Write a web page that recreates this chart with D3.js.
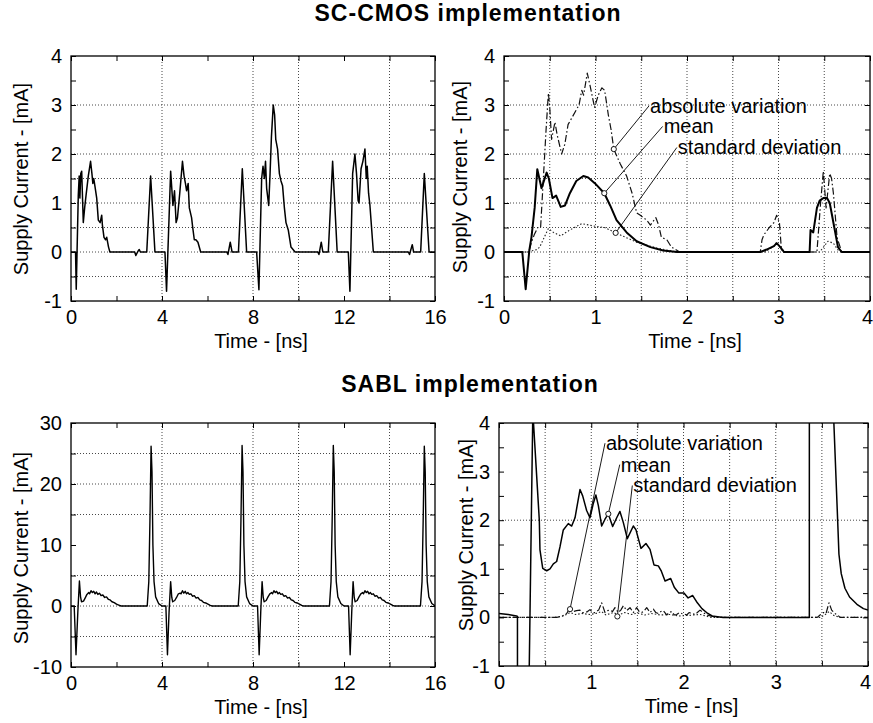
<!DOCTYPE html>
<html><head><meta charset="utf-8">
<script src="https://cdn.jsdelivr.net/npm/d3@7/dist/d3.min.js"></script>
<style>
html,body{margin:0;padding:0;background:#fff;}
svg{display:block;font-family:"Liberation Sans",Arial,Helvetica,sans-serif;}
</style></head>
<body><svg id="chart" width="873" height="723"></svg>
<script>
// ---------------- DATA ----------------
const titles = ["SC-CMOS implementation", "SABL implementation"];
const yLabel = "Supply Current - [mA]";
const xLabel = "Time - [ns]";

// SC-CMOS, supply current over 16 ns  [time ns, current mA]
const scTrace = [[0,0],[0.2,0],[0.23,-0.76],[0.32,1.15],[0.36,1.55],[0.39,1.1],[0.43,1.6],[0.47,1.65],[0.54,0.6],[0.6,0.9],[0.66,1.15],[0.76,1.55],[0.86,1.85],[0.92,1.6],[0.96,1.4],[1.0,1.5],[1.05,1.35],[1.13,1.1],[1.2,0.65],[1.28,0.6],[1.35,0.75],[1.38,0.55],[1.45,0.3],[1.52,0.25],[1.57,0.3],[1.65,0.1],[1.71,0],[2.8,0],[2.85,-0.07],[2.95,0.02],[3.0,0.05],[3.05,0],[3.33,0],[3.5,1.55],[3.69,0],[4.13,0],[4.2,-0.8],[4.38,1.65],[4.48,0.95],[4.55,1.25],[4.62,0.6],[4.68,0.7],[4.78,1.2],[4.9,1.85],[4.97,1.55],[5.03,1.4],[5.08,1.25],[5.15,1.4],[5.2,0.9],[5.3,0.7],[5.35,0.5],[5.42,0.25],[5.49,0.25],[5.58,0.2],[5.7,0],[6.85,0],[6.9,-0.05],[7.0,0.2],[7.08,0],[7.36,0],[7.53,1.7],[7.72,0],[8.16,0],[8.26,-0.77],[8.38,1.5],[8.44,1.75],[8.5,1.5],[8.55,1.85],[8.6,1.3],[8.69,0.95],[8.75,1.6],[8.81,2.35],[8.89,3.0],[8.95,2.8],[9.0,2.3],[9.08,2.1],[9.16,1.6],[9.23,1.45],[9.3,1.35],[9.38,0.9],[9.45,0.6],[9.55,0.45],[9.67,0.1],[9.85,0],[10.85,0],[10.9,-0.05],[11.0,0.2],[11.07,0],[11.31,0],[11.5,1.85],[11.7,0],[12.19,0],[12.26,-0.8],[12.38,1.6],[12.48,2.0],[12.55,1.6],[12.62,1.05],[12.66,1.0],[12.75,1.7],[12.83,1.85],[12.92,2.1],[12.98,1.5],[13.02,1.75],[13.08,1.2],[13.14,0.95],[13.29,0],[14.83,0],[14.88,-0.05],[15.0,0.15],[15.06,0],[15.37,0],[15.53,1.6],[15.74,0],[16,0]];

// SC-CMOS statistics over 4 ns
const scMean = [[0,0],[0.2,0],[0.237,-0.76],[0.277,0.04],[0.3,0.3],[0.335,0.9],[0.364,1.69],[0.41,1.3],[0.466,1.62],[0.49,1.5],[0.53,1.1],[0.57,1.15],[0.62,0.92],[0.667,0.95],[0.72,1.2],[0.79,1.45],[0.867,1.55],[0.92,1.52],[0.995,1.4],[1.096,1.2],[1.16,0.95],[1.23,0.65],[1.34,0.4],[1.45,0.22],[1.6,0.1],[1.74,0.03],[1.89,0],[2.8,0],[2.87,0.05],[2.95,0.12],[2.98,0.18],[3.02,0.1],[3.06,0],[3.34,0],[3.35,0.45],[3.38,0.4],[3.42,0.9],[3.45,1.05],[3.49,1.1],[3.53,1.1],[3.56,1.0],[3.61,0.5],[3.65,0.1],[3.69,0],[4,0]];
const scAbsVar = [[0,0],[0.27,0],[0.3,0.2],[0.33,0.35],[0.37,0.5],[0.4,0.5],[0.43,1.5],[0.46,2.5],[0.485,3.24],[0.5,2.95],[0.52,2.3],[0.557,2.65],[0.58,2.4],[0.63,2.0],[0.665,2.2],[0.7,2.6],[0.79,2.9],[0.82,3.0],[0.85,3.3],[0.87,3.2],[0.91,3.65],[0.94,3.4],[0.99,2.95],[1.03,3.2],[1.07,3.35],[1.1,3.3],[1.14,2.8],[1.17,2.5],[1.2,2.1],[1.27,1.8],[1.34,1.55],[1.4,1.2],[1.45,0.8],[1.49,0.75],[1.56,0.65],[1.6,0.55],[1.66,0.7],[1.69,0.55],[1.72,0.3],[1.78,0.25],[1.83,0.1],[1.92,0],[2.8,0],[2.82,0.25],[2.84,0.35],[2.9,0.5],[2.95,0.6],[2.98,0.75],[3.01,0.6],[3.03,0.1],[3.06,0],[3.42,0],[3.46,1.0],[3.49,1.65],[3.52,0.9],[3.56,1.6],[3.58,1.5],[3.6,1.2],[3.64,0.3],[3.69,0],[4,0]];
const scStd = [[0,0],[0.25,0],[0.36,0.05],[0.39,0.1],[0.485,0.48],[0.54,0.4],[0.62,0.33],[0.72,0.45],[0.85,0.58],[1.01,0.52],[1.1,0.5],[1.22,0.39],[1.45,0.2],[1.67,0.08],[1.89,0],[2.85,0],[2.95,0.12],[2.98,0.2],[3.03,0.05],[3.06,0],[3.45,0],[3.5,0.12],[3.54,0.22],[3.6,0.18],[3.65,0.04],[3.69,0],[4,0]];

// SABL, supply current over 16 ns
const sablTrace = [[0,0],[0.14,0],[0.22,-8],[0.3,-1],[0.37,4.1],[0.42,1.5],[0.46,0.7],[0.55,0.8],[0.62,1.3],[0.7,1.9],[0.78,2.2],[0.82,2.0],[0.88,2.5],[0.94,2.2],[1.0,2.4],[1.06,2.0],[1.12,2.3],[1.18,1.9],[1.25,2.1],[1.32,1.7],[1.4,1.8],[1.48,1.4],[1.56,1.5],[1.64,1.1],[1.72,1.0],[1.8,0.7],[1.9,0.55],[2.0,0.3],[2.1,0.15],[2.2,0],[3.35,0],[3.42,4],[3.47,14],[3.52,26.2],[3.56,22],[3.6,10],[3.65,4],[3.72,1.5],[3.85,0.4],[4.0,0],[4.17,0],
 [4.24,-8],[4.31,-1],[4.38,4],[4.43,1.4],[4.47,0.7],[4.56,0.9],[4.64,1.4],[4.72,2.0],[4.8,2.1],[4.84,2.0],[4.9,2.5],[4.96,2.1],[5.02,2.4],[5.08,2.0],[5.14,2.2],[5.2,1.9],[5.27,2.0],[5.34,1.6],[5.42,1.7],[5.5,1.3],[5.58,1.4],[5.66,1.0],[5.74,0.9],[5.82,0.6],[5.92,0.5],[6.02,0.3],[6.12,0.1],[6.2,0],[7.35,0],[7.42,4],[7.47,14],[7.52,26.3],[7.56,22],[7.6,10],[7.65,4],[7.72,1.5],[7.85,0.4],[8.0,0],[8.2,0],
 [8.27,-8],[8.34,-1],[8.4,4],[8.45,1.4],[8.49,0.7],[8.58,0.9],[8.66,1.5],[8.74,2.0],[8.82,2.2],[8.86,2.0],[8.92,2.5],[8.98,2.2],[9.04,2.4],[9.1,2.0],[9.16,2.2],[9.22,1.9],[9.29,2.0],[9.36,1.6],[9.44,1.7],[9.52,1.3],[9.6,1.4],[9.68,1.0],[9.76,0.9],[9.84,0.6],[9.94,0.5],[10.04,0.3],[10.14,0.1],[10.22,0],[11.36,0],[11.43,4],[11.48,14],[11.53,26.3],[11.57,22],[11.61,10],[11.66,4],[11.73,1.5],[11.86,0.4],[12.0,0],[12.2,0],
 [12.27,-8],[12.34,-1],[12.4,4],[12.45,1.4],[12.49,0.7],[12.58,0.9],[12.66,1.5],[12.74,2.0],[12.82,2.2],[12.86,2.0],[12.92,2.5],[12.98,2.2],[13.04,2.4],[13.1,2.0],[13.16,2.2],[13.22,1.9],[13.29,2.0],[13.36,1.6],[13.44,1.7],[13.52,1.3],[13.6,1.4],[13.68,1.0],[13.76,0.9],[13.84,0.6],[13.94,0.5],[14.04,0.3],[14.14,0.1],[14.22,0],[15.36,0],[15.43,4],[15.48,14],[15.53,26.2],[15.57,22],[15.61,10],[15.66,4],[15.73,1.5],[15.86,0.4],[16,0]];

// SABL statistics over 4 ns
const sablMean = [[0,0.08],[0.1,0.06],[0.19,0.03],[0.2,0.02],[0.202,-8],[0.26,-8],[0.328,-1],[0.365,4],[0.369,4.3],[0.374,4],[0.437,2],[0.444,1.39],[0.474,1.01],[0.517,0.96],[0.553,1.0],[0.589,1.1],[0.625,1.15],[0.661,1.45],[0.697,1.8],[0.751,1.93],[0.788,1.88],[0.824,2.05],[0.878,2.63],[0.907,2.5],[0.95,2.2],[0.986,2.05],[1.023,2.35],[1.05,2.52],[1.077,2.3],[1.113,1.88],[1.149,2.02],[1.185,2.13],[1.232,1.87],[1.276,2.05],[1.311,2.18],[1.348,1.95],[1.391,1.62],[1.456,1.88],[1.485,1.8],[1.539,1.42],[1.593,1.52],[1.637,1.4],[1.68,1.08],[1.727,1.06],[1.76,0.95],[1.8,0.75],[1.861,0.8],[1.9,0.62],[1.95,0.5],[2.005,0.5],[2.05,0.4],[2.1,0.45],[2.15,0.3],[2.2,0.18],[2.25,0.1],[2.31,0.03],[2.43,0],[3.364,0],[3.366,26],[3.56,26],[3.63,4],[3.671,2],[3.685,1.3],[3.71,0.9],[3.75,0.6],[3.8,0.42],[3.88,0.27],[3.95,0.18],[4.0,0.15]];
const sablAbsVar = [[0,0],[0.625,0],[0.68,0.02],[0.734,0.08],[0.77,0.2],[0.805,0.12],[0.84,0.14],[0.878,0.15],[0.905,0.1],[0.932,0.1],[0.96,0.12],[0.986,0.16],[1.015,0.1],[1.041,0.1],[1.08,0.15],[1.113,0.3],[1.149,0.1],[1.175,0.14],[1.203,0.15],[1.23,0.12],[1.257,0.2],[1.293,0.1],[1.32,0.15],[1.348,0.24],[1.384,0.14],[1.42,0.2],[1.456,0.1],[1.492,0.2],[1.52,0.12],[1.547,0.1],[1.575,0.14],[1.601,0.2],[1.637,0.1],[1.673,0.17],[1.7,0.1],[1.727,0.08],[1.755,0.12],[1.781,0.14],[1.818,0.05],[1.845,0.1],[1.872,0.12],[1.9,0.05],[1.926,0.06],[1.955,0.1],[1.98,0.08],[2.035,0.05],[2.06,0.1],[2.088,0.08],[2.125,0.06],[2.15,0.1],[2.179,0.15],[2.251,0.05],[2.36,0],[3.45,0],[3.48,0.05],[3.516,0.1],[3.545,0.08],[3.577,0.3],[3.606,0.15],[3.64,0.08],[3.67,0.05],[3.697,0],[4,0]];
const sablStd = [[0,0],[0.6,0],[0.7,0.03],[0.77,0.1],[0.83,0.06],[0.9,0.08],[0.98,0.06],[1.05,0.08],[1.11,0.12],[1.16,0.05],[1.24,0.1],[1.3,0.05],[1.36,0.1],[1.44,0.06],[1.5,0.09],[1.58,0.05],[1.65,0.08],[1.75,0.05],[1.85,0.06],[1.95,0.03],[2.05,0.04],[2.18,0.06],[2.3,0],[3.48,0],[3.53,0.05],[3.58,0.12],[3.63,0.04],[3.7,0],[4,0]];

// annotation labels: [text, marker time, marker value, label time, label value]
const scNotes = [["absolute variation",1.2,2.1,1.596,2.84],["mean",1.096,1.2,1.745,2.42],["standard deviation",1.22,0.39,1.9,1.99]];
const sablNotes = [["absolute variation",0.77,0.17,1.16,3.44],["mean",1.185,2.13,1.32,3.0],["standard deviation",1.283,0.02,1.456,2.57]];

// axes: domains, tick values, labels, grid
const x16Domain = [0,16], x16Ticks = [0,2,4,6,8,10,12,14,16], x16Labels = [0,4,8,12,16], x16Grid = [4,8,10,14];
const x4Domain = [0,4], x4Ticks = [0,0.5,1,1.5,2,2.5,3,3.5,4], x4Labels = [0,1,2,3,4], x4Grid = [0.5,1,1.5,2,2.5,3,3.5];
const ySmallDomain = [-1,4], ySmallTicks = [-1,-0.5,0,0.5,1,1.5,2,2.5,3,3.5,4], ySmallLabels = [-1,0,1,2,3,4];
const ySmallGrid = [-0.5,0,0.5,1,1.5,2,3];
const yBigDomain = [-10,30], yBigTicks = [-10,-5,0,5,10,15,20,25,30], yBigLabels = [-10,0,10,20,30], yBigGrid = [-5,0,5,15,20,25];
const sablZoomGrid = [2];

// ---------------- DRAWING ----------------
const svg = d3.select("#chart");
const FONT = 20;

function panel(id, box, xd, xt, xl, xg, yd, yt, yl, yg, series, notes, ylabX, ylabY) {
  const g = svg.append("g");
  const x = d3.scaleLinear().domain(xd).range([box.x0, box.x1]);
  const y = d3.scaleLinear().domain(yd).range([box.y1, box.y0]);
  const clipId = "clip" + id;
  svg.append("clipPath").attr("id", clipId).append("rect")
    .attr("x", box.x0).attr("y", box.y0).attr("width", box.x1 - box.x0).attr("height", box.y1 - box.y0);

  // grid
  g.append("g").selectAll("line.gx").data(xg).join("line")
    .attr("x1", d => x(d)).attr("x2", d => x(d)).attr("y1", box.y0).attr("y2", box.y1)
    .attr("stroke", "#333").attr("stroke-width", 0.9).attr("stroke-dasharray", "1,2");
  g.append("g").selectAll("line.gy").data(yg).join("line")
    .attr("y1", d => y(d)).attr("y2", d => y(d)).attr("x1", box.x0).attr("x2", box.x1)
    .attr("stroke", "#333").attr("stroke-width", 0.9).attr("stroke-dasharray", "1,2");

  // data
  const line = d3.line().x(d => x(d[0])).y(d => y(d[1]));
  const dg = g.append("g").attr("clip-path", `url(#${clipId})`);
  series.forEach(s => {
    dg.append("path").datum(s.data).attr("d", line).attr("fill", "none")
      .attr("stroke", s.color).attr("stroke-width", s.width)
      .attr("stroke-dasharray", s.dash || null).attr("stroke-linejoin", "round");
  });

  // axes (inward ticks on four sides)
  const fmtX = d => xl.includes(d) ? String(d) : "";
  const fmtY = d => yl.includes(d) ? String(d) : "";
  const axB = g.append("g").attr("transform", `translate(0,${box.y1})`)
    .call(d3.axisBottom(x).tickValues(xt).tickFormat(fmtX).tickSizeInner(-5).tickSizeOuter(0).tickPadding(9));
  const axT = g.append("g").attr("transform", `translate(0,${box.y0})`)
    .call(d3.axisTop(x).tickValues(xt).tickFormat("").tickSizeInner(-5).tickSizeOuter(0));
  const axL = g.append("g").attr("transform", `translate(${box.x0},0)`)
    .call(d3.axisLeft(y).tickValues(yt).tickFormat(fmtY).tickSizeInner(-5).tickSizeOuter(0).tickPadding(9));
  const axR = g.append("g").attr("transform", `translate(${box.x1},0)`)
    .call(d3.axisRight(y).tickValues(yt).tickFormat("").tickSizeInner(-5).tickSizeOuter(0));
  [axB, axT, axL, axR].forEach(a => {
    a.select(".domain").remove();
    a.selectAll(".tick line").attr("stroke", "#000").attr("stroke-width", 1);
    a.selectAll("text").attr("font-size", FONT).attr("font-family", '"Liberation Sans",Arial,sans-serif').attr("fill", "#000");
  });
  axB.selectAll("text").attr("dy", "0.71em");
  // keep the last x label inside the page
  axB.selectAll(".tick").filter(d => d === xd[1]).select("text").attr("dx", box.x1 > 860 ? -3 : 0);

  // frame
  g.append("rect").attr("x", box.x0).attr("y", box.y0).attr("width", box.x1 - box.x0).attr("height", box.y1 - box.y0)
    .attr("fill", "none").attr("stroke", "#000").attr("stroke-width", 1.3);

  // axis labels
  g.append("text").attr("x", (box.x0 + box.x1) / 2 + 8).attr("y", box.y1 + 47)
    .attr("text-anchor", "middle").attr("font-size", FONT).text(xLabel);
  g.append("text").attr("transform", `translate(${ylabX},${ylabY}) rotate(-90)`)
    .attr("text-anchor", "middle").attr("font-size", FONT).text(yLabel);

  // annotations
  if (notes) {
    notes.forEach(n => {
      const cx = x(n[1]), cy = y(n[2]), tx = x(n[3]), ty = y(n[4]);
      g.append("line").attr("x1", cx).attr("y1", cy).attr("x2", tx - 1).attr("y2", ty - 7)
        .attr("stroke", "#000").attr("stroke-width", 0.9);
      g.append("circle").attr("cx", cx).attr("cy", cy).attr("r", 2.6)
        .attr("fill", "#fff").attr("stroke", "#000").attr("stroke-width", 0.9);
      g.append("text").attr("x", tx).attr("y", ty).attr("font-size", FONT).text(n[0]);
    });
  }
}

const SOLID = "#000";
panel("tl", {x0:71, x1:435, y0:56, y1:301}, x16Domain, x16Ticks, x16Labels, x16Grid,
  ySmallDomain, ySmallTicks, ySmallLabels, ySmallGrid,
  [{data: scTrace, color: SOLID, width: 1.5}], null, 28, 179);

panel("tr", {x0:504, x1:870, y0:56, y1:301}, x4Domain, x4Ticks, x4Labels, x4Grid,
  ySmallDomain, ySmallTicks, ySmallLabels, ySmallGrid,
  [{data: scStd, color: "#222", width: 1.1, dash: "1.5,2"},
   {data: scAbsVar, color: "#111", width: 1.2, dash: "7,2.5,1.5,2.5"},
   {data: scMean, color: SOLID, width: 2}], scNotes, 467, 177);

panel("bl", {x0:71, x1:435, y0:423, y1:667}, x16Domain, x16Ticks, x16Labels, x16Grid,
  yBigDomain, yBigTicks, yBigLabels, yBigGrid,
  [{data: sablTrace, color: SOLID, width: 1.4}], null, 28, 548);

panel("br", {x0:499, x1:868, y0:423, y1:666}, x4Domain, x4Ticks, x4Labels, x4Grid,
  ySmallDomain, ySmallTicks, ySmallLabels, sablZoomGrid,
  [{data: sablStd, color: "#222", width: 1.1, dash: "1.5,2"},
   {data: sablAbsVar, color: "#111", width: 1.2, dash: "7,2.5,1.5,2.5"},
   {data: sablMean, color: SOLID, width: 1.5}], sablNotes, 473, 535);

// titles
svg.append("text").attr("x", 468).attr("y", 21).attr("text-anchor", "middle")
  .attr("font-size", 23).attr("font-weight", "bold").attr("letter-spacing", 1).text(titles[0]);
svg.append("text").attr("x", 470).attr("y", 392).attr("text-anchor", "middle")
  .attr("font-size", 23).attr("font-weight", "bold").attr("letter-spacing", 1).text(titles[1]);
</script>
</body></html>
